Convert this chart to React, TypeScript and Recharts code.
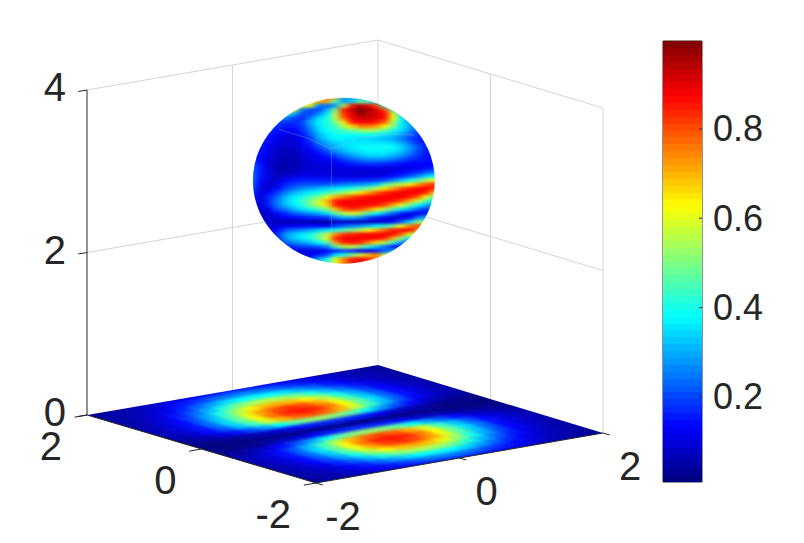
import { Bar, BarChart, ReferenceArea, Scatter, ScatterChart, XAxis, YAxis } from 'recharts'

const WIDTH = 804
const HEIGHT = 543
const INK = '#262626'
const GRID = '#d4d4d4'
const FONT = '"Liberation Sans", Arial, sans-serif'

const xTicks = [-2, 0, 2]
const yTicks = [2, 0, -2]
const zTicks = [0, 2, 4]
const colorbarTicks = [0.2, 0.4, 0.6, 0.8]
const colorbarDomain = [0.0096, 0.997]
const colorbarLevels = 64

// floor image, rows run y = -2..2 and columns x = -2..2, step 0.2
const floorValues = [
  [.03, .04, .045, .055, .07, .085, .1, .12, .145, .155, .16, .155, .145, .12, .1, .085, .07, .055, .045, .04, .03],
  [.035, .045, .055, .07, .095, .125, .155, .19, .23, .25, .26, .25, .23, .19, .155, .125, .095, .07, .055, .045, .035],
  [.04, .05, .065, .085, .12, .165, .23, .29, .35, .38, .39, .38, .35, .29, .23, .165, .12, .085, .065, .05, .04],
  [.045, .055, .08, .11, .16, .23, .31, .41, .49, .54, .56, .54, .49, .41, .31, .23, .16, .11, .08, .055, .045],
  [.045, .06, .09, .13, .2, .29, .4, .52, .62, .69, .71, .69, .62, .52, .4, .29, .2, .13, .09, .06, .045],
  [.05, .07, .1, .14, .23, .33, .46, .6, .72, .8, .83, .8, .72, .6, .46, .33, .23, .14, .1, .07, .05],
  [.05, .07, .1, .15, .24, .35, .48, .63, .76, .84, .86, .84, .76, .63, .48, .35, .24, .15, .1, .07, .05],
  [.05, .065, .095, .14, .22, .32, .44, .58, .7, .78, .81, .78, .7, .58, .44, .32, .22, .14, .095, .065, .05],
  [.03, .04, .06, .09, .14, .21, .29, .38, .46, .51, .53, .51, .46, .38, .29, .21, .14, .09, .06, .04, .03],
  [.01, .02, .02, .03, .05, .07, .09, .12, .15, .16, .17, .16, .15, .12, .09, .07, .05, .03, .02, .02, .01],
  [.01, .01, .01, .01, .02, .02, .02, .02, .02, .02, .02, .02, .02, .02, .02, .02, .02, .01, .01, .01, .01],
  [.01, .02, .02, .03, .05, .07, .09, .12, .15, .16, .17, .16, .15, .12, .09, .07, .05, .03, .02, .02, .01],
  [.03, .04, .06, .09, .14, .21, .29, .38, .46, .51, .53, .51, .46, .38, .29, .21, .14, .09, .06, .04, .03],
  [.05, .065, .095, .14, .22, .32, .44, .58, .7, .78, .81, .78, .7, .58, .44, .32, .22, .14, .095, .065, .05],
  [.05, .07, .1, .15, .24, .35, .48, .63, .76, .84, .86, .84, .76, .63, .48, .35, .24, .15, .1, .07, .05],
  [.05, .07, .1, .14, .23, .33, .46, .6, .72, .8, .83, .8, .72, .6, .46, .33, .23, .14, .1, .07, .05],
  [.045, .06, .09, .13, .2, .29, .4, .52, .62, .69, .71, .69, .62, .52, .4, .29, .2, .13, .09, .06, .045],
  [.045, .055, .08, .11, .16, .23, .31, .41, .49, .54, .56, .54, .49, .41, .31, .23, .16, .11, .08, .055, .045],
  [.04, .05, .065, .085, .12, .165, .23, .29, .35, .38, .39, .38, .35, .29, .23, .165, .12, .085, .065, .05, .04],
  [.035, .045, .055, .07, .095, .125, .155, .19, .23, .25, .26, .25, .23, .19, .155, .125, .095, .07, .055, .045, .035],
  [.03, .04, .045, .055, .07, .085, .1, .12, .145, .155, .16, .155, .145, .12, .1, .085, .07, .055, .045, .04, .03],
]

// visible face of the sphere, rows top to bottom, columns left to right
const sphereValues = [
  [.6, .6, .6, .6, .6, .6, .7, .75, .8, .85, .7, .3, .28, .28, .28, .28, .25, .25, .25, .25, .25, .25, .25],
  [.65, .65, .65, .65, .65, .65, .65, .65, .7, .7, .45, .28, .33, .48, .43, .33, .25, .25, .25, .25, .25, .25, .25],
  [.65, .65, .65, .65, .65, .65, .6, .6, .25, .23, .27, .55, .85, .95, .88, .8, .4, .28, .25, .25, .25, .25, .25],
  [.6, .6, .6, .6, .6, .6, .25, .2, .2, .3, .5, .85, .93, 1, .97, .9, .8, .45, .28, .25, .25, .25, .25],
  [.45, .45, .45, .45, .45, .3, .2, .2, .27, .36, .55, .82, .9, .97, .95, .9, .87, .6, .33, .25, .25, .25, .25],
  [.3, .3, .3, .3, .25, .2, .17, .25, .34, .4, .55, .78, .88, .93, .92, .9, .85, .62, .38, .28, .25, .25, .25],
  [.22, .22, .22, .2, .18, .17, .2, .3, .37, .4, .5, .65, .85, .88, .88, .85, .78, .55, .37, .28, .22, .22, .22],
  [.18, .18, .18, .17, .15, .15, .19, .27, .36, .4, .44, .55, .65, .75, .75, .72, .62, .5, .37, .3, .22, .2, .2],
  [.18, .18, .17, .15, .13, .13, .17, .25, .34, .38, .42, .44, .48, .52, .55, .52, .47, .4, .35, .27, .2, .18, .18],
  [.17, .17, .15, .13, .11, .11, .15, .22, .31, .36, .39, .39, .39, .39, .39, .38, .36, .33, .29, .23, .18, .16, .15],
  [.17, .17, .14, .11, .09, .09, .13, .19, .29, .34, .37, .37, .36, .35, .34, .33, .31, .3, .25, .2, .16, .14, .13],
  [.17, .16, .13, .1, .09, .09, .12, .17, .25, .3, .33, .35, .36, .36, .36, .36, .36, .34, .3, .24, .18, .15, .13],
  [.17, .15, .12, .09, .08, .08, .11, .14, .2, .26, .31, .34, .36, .38, .39, .39, .39, .38, .34, .28, .21, .16, .14],
  [.17, .15, .11, .08, .07, .07, .1, .12, .16, .21, .27, .31, .34, .36, .37, .37, .37, .36, .32, .27, .2, .16, .14],
  [.17, .13, .1, .07, .06, .06, .09, .11, .13, .16, .2, .25, .29, .32, .34, .34, .34, .31, .28, .23, .18, .15, .13],
  [.18, .13, .09, .07, .06, .06, .08, .1, .12, .13, .15, .19, .22, .25, .27, .27, .26, .24, .21, .18, .16, .15, .14],
  [.2, .14, .09, .06, .06, .06, .08, .09, .1, .11, .12, .14, .16, .17, .18, .18, .17, .16, .14, .13, .13, .13, .14],
  [.23, .15, .09, .06, .05, .06, .08, .09, .1, .1, .1, .11, .11, .11, .11, .11, .11, .1, .1, .11, .12, .14, .16],
  [.23, .15, .1, .06, .06, .07, .09, .1, .1, .1, .1, .1, .09, .09, .09, .09, .09, .11, .13, .15, .17, .21, .25],
  [.23, .15, .1, .07, .09, .1, .11, .11, .11, .11, .1, .1, .1, .1, .1, .11, .12, .14, .17, .21, .27, .33, .38],
  [.23, .13, .09, .09, .13, .15, .16, .16, .16, .16, .16, .16, .16, .16, .17, .18, .2, .26, .32, .39, .46, .55, .62],
  [.22, .12, .08, .11, .17, .19, .21, .21, .21, .22, .23, .25, .27, .28, .3, .33, .46, .52, .57, .64, .72, .8, .83],
  [.2, .1, .09, .14, .2, .24, .27, .29, .32, .34, .36, .38, .41, .45, .5, .57, .66, .73, .8, .85, .87, .87, .83],
  [.17, .1, .12, .19, .26, .31, .34, .37, .4, .44, .48, .53, .58, .65, .72, .79, .84, .87, .88, .88, .88, .84, .68],
  [.15, .1, .17, .23, .31, .36, .4, .45, .5, .6, .7, .76, .81, .85, .87, .88, .88, .88, .88, .85, .78, .62, .44],
  [.12, .1, .17, .25, .33, .38, .43, .5, .58, .7, .85, .88, .88, .88, .88, .88, .87, .85, .8, .7, .58, .45, .35],
  [.1, .09, .16, .25, .31, .36, .41, .49, .56, .66, .84, .88, .88, .88, .87, .85, .8, .7, .6, .48, .38, .3, .25],
  [.09, .08, .12, .21, .25, .31, .35, .39, .44, .5, .68, .8, .83, .8, .74, .65, .55, .45, .36, .3, .22, .18, .2],
  [.08, .08, .09, .14, .17, .22, .24, .27, .3, .34, .45, .55, .6, .55, .45, .38, .3, .22, .15, .11, .11, .15, .2],
  [.08, .08, .09, .1, .12, .14, .15, .16, .17, .18, .25, .3, .3, .27, .2, .15, .11, .09, .09, .13, .25, .3, .3],
  [.09, .09, .08, .06, .06, .06, .06, .06, .05, .05, .07, .09, .07, .07, .07, .08, .1, .13, .22, .35, .5, .55, .55],
  [.1, .1, .09, .1, .12, .12, .12, .14, .14, .13, .19, .23, .25, .28, .32, .37, .42, .5, .62, .75, .8, .8, .8],
  [.1, .1, .1, .14, .2, .24, .26, .29, .33, .36, .4, .45, .5, .55, .62, .7, .78, .85, .87, .87, .75, .7, .7],
  [.1, .1, .12, .17, .29, .33, .36, .4, .47, .56, .73, .82, .84, .86, .87, .88, .88, .87, .78, .6, .5, .5, .5],
  [.1, .1, .12, .17, .27, .33, .36, .41, .49, .6, .84, .88, .88, .88, .88, .87, .83, .7, .5, .38, .3, .3, .3],
  [.1, .1, .12, .16, .22, .27, .29, .33, .38, .46, .72, .84, .86, .84, .75, .65, .55, .42, .28, .15, .15, .15, .15],
  [.1, .1, .12, .14, .17, .17, .19, .2, .22, .26, .45, .55, .58, .5, .42, .32, .24, .15, .12, .2, .2, .2, .2],
  [.1, .1, .1, .1, .1, .1, .1, .1, .1, .13, .17, .2, .18, .14, .12, .16, .22, .3, .35, .35, .35, .35, .35],
  [.1, .1, .1, .1, .1, .1, .11, .13, .16, .2, .35, .4, .5, .58, .68, .75, .55, .5, .5, .5, .5, .5, .5],
  [.1, .1, .1, .1, .1, .1, .15, .2, .3, .4, .6, .75, .85, .88, .85, .75, .6, .5, .5, .5, .5, .5, .5],
  [.1, .1, .1, .1, .1, .1, .15, .2, .3, .4, .6, .75, .85, .85, .8, .7, .6, .5, .5, .5, .5, .5, .5],
]

// where the grid planes cut the sphere, as [across, down] in sphere radii
const sphereSeams = [
  [[-.72, -.62], [-.42, -.52], [-.136, -.38]],
  [[-.136, -.38], [-.136, .8]],
  [[-.136, -.38], [.176, -.52], [.5, -.56], [.78, -.55]],
]

// the view is almost orthographic, the twist term takes up the small perspective
function project(x: number, y: number, z: number) {
  const a = x + 2
  const b = y + 2
  return {
    h: 316 + a * 71.75 - b * 57.25 + (a * b * 4) / 16,
    v: 483 - a * 12.5 - b * 17 - z * 81.25,
  }
}

function jet(value: number) {
  const t = (value - colorbarDomain[0]) / (colorbarDomain[1] - colorbarDomain[0])
  const channel = (c: number) => Math.round(255 * Math.max(0, Math.min(1, 1.5 - Math.abs(4 * t - c))))
  return `rgb(${channel(3)},${channel(2)},${channel(1)})`
}

const segment = (from: number[], to: number[]) => [project(from[0], from[1], from[2]), project(to[0], to[1], to[2])]

const gridLines = [
  segment([2, 2, 0], [2, 2, 4]),
  segment([2, -2, 0], [2, -2, 4]),
  segment([0, 2, 0], [0, 2, 4]),
  segment([2, 0, 0], [2, 0, 4]),
  segment([-2, 2, 4], [2, 2, 4]),
  segment([2, 2, 4], [2, -2, 4]),
  segment([-2, 2, 2], [2, 2, 2]),
  segment([2, 2, 2], [2, -2, 2]),
]

const axisLines = [
  segment([-2, 2, 0], [-2, 2, 4]),
  segment([-2, 2, 0], [-2, -2, 0]),
  segment([-2, -2, 0], [2, -2, 0]),
  ...zTicks.map((z) => segment([-2, 2, z], [-2.12, 2, z])),
  ...yTicks.map((y) => segment([-2, y, 0], [-2.17, y, 0])),
  ...xTicks.map((x) => segment([x, -2, 0], [x, -2.12, 0])),
]

const tickLabels = [
  ...zTicks.map((z) => ({ ...project(-2, 2, z), text: String(z), dx: -21, dy: -3, anchor: 'end' })),
  ...yTicks.map((y) => ({ ...project(-2, y, 0), text: String(y), dx: -25, dy: 31, anchor: 'end' })),
  ...xTicks.map((x) => ({ ...project(x, -2, 0), text: String(x), dx: 27, dy: 33, anchor: 'middle' })),
]

const floorCorners = [project(-2, 2, 0), project(2, 2, 0), project(2, -2, 0), project(-2, -2, 0)]
const floorCells = floorValues.flatMap((row, r) =>
  row.map((value, c) => ({ ...project(-2 + c * 0.2, -2 + r * 0.2, 0), value })),
)
const origin = project(0, 0, 0)
const stepX = project(0.1, 0, 0)
const stepY = project(0, 0.1, 0)

const sphereCenter = project(-0.03, 0, 3)
const sphereRx = 91
const sphereRy = 83
const sphereCols = sphereValues[0].length
const sphereRows = sphereValues.length
const toSphere = (u: number, v: number) => ({ h: sphereCenter.h + u * sphereRx, v: sphereCenter.v + v * sphereRy })
const sphereCells = sphereValues.flatMap((row, r) =>
  row.map((value, c) => ({
    ...toSphere((c - (sphereCols - 1) / 2) / ((sphereCols - 1) / 2), (r - (sphereRows - 1) / 2) / ((sphereRows - 1) / 2)),
    value,
  })),
)
const cellW = (sphereRx * 2) / (sphereCols - 1) + 0.6
const cellH = (sphereRy * 2) / (sphereRows - 1) + 0.6

function FloorCell({ cx, cy, payload }: any) {
  const ex = { h: stepX.h - origin.h, v: stepX.v - origin.v }
  const ey = { h: stepY.h - origin.h, v: stepY.v - origin.v }
  const points = [
    [cx - ex.h - ey.h, cy - ex.v - ey.v],
    [cx + ex.h - ey.h, cy + ex.v - ey.v],
    [cx + ex.h + ey.h, cy + ex.v + ey.v],
    [cx - ex.h + ey.h, cy - ex.v + ey.v],
  ]
  return <polygon points={points.map((p) => p.join(',')).join(' ')} fill={jet(payload.value)} stroke={jet(payload.value)} strokeWidth={0.6} />
}

function SphereCell({ cx, cy, payload }: any) {
  return <rect x={cx - cellW / 2} y={cy - cellH / 2} width={cellW} height={cellH} fill={jet(payload.value)} />
}

function TickLabel({ cx, cy, payload }: any) {
  return (
    <text x={cx + payload.dx} y={cy + payload.dy} textAnchor={payload.anchor} dominantBaseline="central" fontSize={40} fontFamily={FONT} fill={INK}>
      {payload.text}
    </text>
  )
}

const noDot = () => <g />

function ColorbarTick({ x, y, payload }: any) {
  return (
    <g>
      <line x1={x - 3} x2={x} y1={y} y2={y} stroke={INK} />
      <text x={x + 11} y={y} dominantBaseline="central" fontSize={36} fontFamily={FONT} fill={INK}>
        {payload.value}
      </text>
    </g>
  )
}

const levelKeys = Array.from({ length: colorbarLevels }, (_, i) => `level${i}`)
const colorbarRow: Record<string, number | string> = { name: 'colorbar', base: colorbarDomain[0] }
levelKeys.forEach((key) => {
  colorbarRow[key] = (colorbarDomain[1] - colorbarDomain[0]) / colorbarLevels
})

export default function App() {
  const floorClip = floorCorners.map((p) => `${p.h},${p.v}`).join(' ')
  return (
    <div style={{ position: 'absolute', left: 0, top: 0, width: WIDTH, height: HEIGHT, background: '#fff' }}>
      <style>{`
        .floor-cells { filter: url(#floorSmooth); clip-path: url(#floorClip); }
        .sphere-cells { filter: url(#sphereSmooth); clip-path: url(#sphereClip); }
        .colorbar .recharts-bar-rectangle path { shape-rendering: crispEdges; }
      `}</style>
      <svg width={0} height={0} style={{ position: 'absolute' }}>
        <defs>
          <filter id="floorSmooth" colorInterpolationFilters="sRGB" x="-5%" y="-5%" width="110%" height="110%">
            <feGaussianBlur stdDeviation="4 1.6" />
          </filter>
          <filter id="sphereSmooth" colorInterpolationFilters="sRGB" x="-5%" y="-5%" width="110%" height="110%">
            <feGaussianBlur stdDeviation="3.2 1.5" />
          </filter>
          <clipPath id="floorClip">
            <polygon points={floorClip} />
          </clipPath>
          <clipPath id="sphereClip">
            <ellipse cx={sphereCenter.h} cy={sphereCenter.v} rx={sphereRx} ry={sphereRy} />
          </clipPath>
        </defs>
      </svg>

      <div style={{ position: 'absolute', left: 0, top: 0 }}>
        <ScatterChart width={WIDTH} height={HEIGHT} margin={{ top: 0, right: 0, bottom: 0, left: 0 }}>
          <XAxis type="number" dataKey="h" domain={[0, WIDTH]} hide allowDataOverflow />
          <YAxis type="number" dataKey="v" domain={[0, HEIGHT]} reversed hide allowDataOverflow />
          {gridLines.map((line, i) => (
            <Scatter key={`grid${i}`} data={line} line={{ stroke: GRID, strokeWidth: 1 }} shape={noDot} isAnimationActive={false} />
          ))}
          <Scatter className="floor-cells" data={floorCells} shape={FloorCell} isAnimationActive={false} />
          {axisLines.map((line, i) => (
            <Scatter key={`axis${i}`} data={line} line={{ stroke: INK, strokeWidth: 1 }} shape={noDot} isAnimationActive={false} />
          ))}
          <Scatter className="sphere-cells" data={sphereCells} shape={SphereCell} isAnimationActive={false} />
          {sphereSeams.map((seam, i) => (
            <Scatter
              key={`seam${i}`}
              data={seam.map(([u, v]) => toSphere(u, v))}
              line={{ stroke: '#a9c4d6', strokeWidth: 0.7, strokeOpacity: 0.45 }}
              shape={noDot}
              isAnimationActive={false}
            />
          ))}
          <Scatter data={tickLabels} shape={TickLabel} isAnimationActive={false} />
        </ScatterChart>
      </div>

      <div style={{ position: 'absolute', left: 650, top: 0 }}>
        <BarChart
          className="colorbar"
          width={154}
          height={HEIGHT}
          data={[colorbarRow]}
          barCategoryGap={0}
          barGap={0}
          margin={{ top: 41, right: 0, bottom: 61, left: 13 }}
        >
          <XAxis dataKey="name" hide />
          <YAxis
            orientation="right"
            type="number"
            domain={colorbarDomain}
            ticks={colorbarTicks}
            width={102}
            axisLine={false}
            tickLine={false}
            tickSize={0}
            tickMargin={0}
            tick={ColorbarTick}
            allowDataOverflow
          />
          <Bar dataKey="base" stackId="bar" fill="none" isAnimationActive={false} />
          {levelKeys.map((key, i) => (
            <Bar
              key={key}
              dataKey={key}
              stackId="bar"
              fill={jet(colorbarDomain[0] + ((i + 0.5) / colorbarLevels) * (colorbarDomain[1] - colorbarDomain[0]))}
              isAnimationActive={false}
            />
          ))}
          <ReferenceArea y1={colorbarDomain[0]} y2={colorbarDomain[1]} fill="none" stroke={INK} strokeWidth={1} />
        </BarChart>
      </div>
    </div>
  )
}
